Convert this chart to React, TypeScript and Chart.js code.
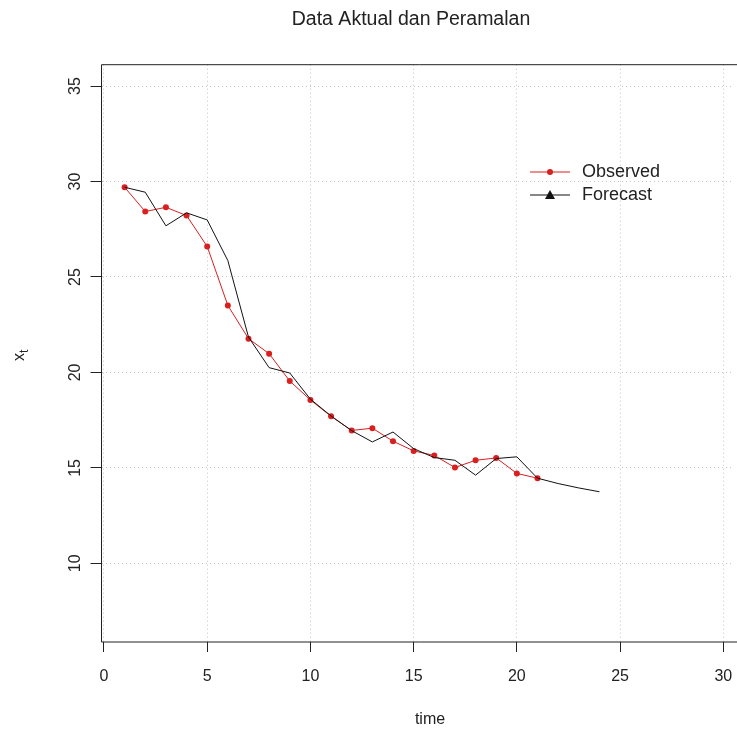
import React, { useEffect, useRef } from 'react';
import { Chart, registerables } from 'chart.js';

Chart.register(...registerables);

const chartTitle = 'Data Aktual dan Peramalan';
const xAxisLabel = 'time';
const seriesNames = ['Observed', 'Forecast'];

const timeObserved = [1, 2, 3, 4, 5, 6, 7, 8, 9, 10, 11, 12, 13, 14, 15, 16, 17, 18, 19, 20, 21];
const observed = [29.7, 28.43, 28.65, 28.22, 26.6, 23.51, 21.77, 20.98, 19.55, 18.56, 17.7, 16.96, 17.08, 16.4, 15.89, 15.65, 15.02, 15.4, 15.52, 14.71, 14.46];

const timeForecast = [1, 2, 3, 4, 5, 6, 7, 8, 9, 10, 11, 12, 13, 14, 15, 16, 17, 18, 19, 20, 21, 22, 23, 24];
const forecast = [29.7, 29.44, 27.68, 28.36, 27.99, 25.86, 21.85, 20.25, 19.97, 18.6, 17.72, 16.95, 16.36, 16.88, 16.01, 15.54, 15.4, 14.62, 15.49, 15.58, 14.46, 14.18, 13.95, 13.75];

const xTicks = [0, 5, 10, 15, 20, 25, 30];
const yTicks = [10, 15, 20, 25, 30, 35];

const FONT = '"Liberation Sans", Arial, sans-serif';
const RED = '#d91f1f';

const decorPlugin = {
  id: 'decor',
  afterDraw(chart: any) {
    const ctx = chart.ctx as CanvasRenderingContext2D;
    const a = chart.chartArea;
    const ys = chart.scales.y;
    ctx.save();
    // box
    ctx.strokeStyle = '#222';
    ctx.lineWidth = 1;
    ctx.beginPath();
    ctx.moveTo(a.right + 5, a.top);
    ctx.lineTo(a.left, a.top);
    ctx.lineTo(a.left, a.bottom);
    ctx.lineTo(a.right + 5, a.bottom);
    ctx.stroke();

    // y tick labels rotated
    ctx.fillStyle = '#222';
    ctx.font = `16px ${FONT}`;
    ctx.textAlign = 'center';
    ctx.textBaseline = 'middle';
    yTicks.forEach((v) => {
      const py = ys.getPixelForValue(v);
      ctx.save();
      ctx.translate(76, py);
      ctx.rotate(-Math.PI / 2);
      ctx.fillText(String(v), 0, 0);
      ctx.restore();
    });

    // y axis label x_t
    ctx.save();
    ctx.translate(20, 356);
    ctx.rotate(-Math.PI / 2);
    ctx.textAlign = 'left';
    ctx.font = `16px ${FONT}`;
    ctx.fillText('x', -5, 0);
    ctx.font = `12px ${FONT}`;
    ctx.fillText('t', 3, 5);
    ctx.restore();

    // x axis label
    ctx.font = `16px ${FONT}`;
    ctx.textAlign = 'center';
    ctx.fillText(xAxisLabel, 430, 720);

    // title
    ctx.font = `19.5px ${FONT}`;
    ctx.fillText(chartTitle, 411, 20);

    // legend
    const lx0 = 530, lx1 = 570, tx = 582;
    const ly = [172, 195];
    ctx.lineWidth = 1;
    ctx.strokeStyle = RED;
    ctx.beginPath();
    ctx.moveTo(lx0, ly[0]);
    ctx.lineTo(lx1, ly[0]);
    ctx.stroke();
    ctx.fillStyle = RED;
    ctx.beginPath();
    ctx.arc(550, ly[0], 3, 0, Math.PI * 2);
    ctx.fill();
    ctx.strokeStyle = '#111';
    ctx.beginPath();
    ctx.moveTo(lx0, ly[1]);
    ctx.lineTo(lx1, ly[1]);
    ctx.stroke();
    ctx.fillStyle = '#111';
    ctx.beginPath();
    ctx.moveTo(550, ly[1] - 5);
    ctx.lineTo(555, ly[1] + 4);
    ctx.lineTo(545, ly[1] + 4);
    ctx.closePath();
    ctx.fill();
    ctx.fillStyle = '#222';
    ctx.textAlign = 'left';
    ctx.font = `18px ${FONT}`;
    ctx.fillText(seriesNames[0], tx, ly[0]);
    ctx.fillText(seriesNames[1], tx, ly[1]);
    ctx.restore();
  },
};

export default function App() {
  const ref = useRef<HTMLCanvasElement | null>(null);
  useEffect(() => {
    document.body.style.margin = '0';
    document.body.style.overflow = 'hidden';
    const canvas = ref.current;
    if (!canvas) return;
    const chart = new Chart(canvas, {
      type: 'line',
      data: {
        datasets: [
          {
            label: seriesNames[1],
            data: timeForecast.map((t, i) => ({ x: t, y: forecast[i] })),
            borderColor: '#111',
            borderWidth: 1,
            pointRadius: 0,
            tension: 0,
            fill: false,
          },
          {
            label: seriesNames[0],
            data: timeObserved.map((t, i) => ({ x: t, y: observed[i] })),
            borderColor: RED,
            borderWidth: 1,
            pointRadius: 3,
            pointBorderWidth: 0,
            pointBackgroundColor: RED,
            tension: 0,
            fill: false,
          },
        ],
      },
      plugins: [decorPlugin],
      options: {
        animation: false,
        responsive: false,
        maintainAspectRatio: false,
        layout: { padding: { top: 64.7, left: 0, right: 0, bottom: 0 } },
        plugins: { legend: { display: false }, title: { display: false }, tooltip: { enabled: false } },
        scales: {
          x: {
            type: 'linear',
            min: -0.12,
            max: 30.47,
            afterBuildTicks: (axis: any) => {
              axis.ticks = xTicks.map((v) => ({ value: v }));
            },
            afterFit: (axis: any) => {
              axis.height = 89;
              axis.paddingRight = 0;
              axis.paddingLeft = 0;
            },
            ticks: {
              color: '#222',
              font: { family: FONT, size: 16 },
              padding: 15,
              maxRotation: 0,
              autoSkip: false,
              callback: (v: any) => String(v),
            },
            border: { display: false, dash: [1, 3] },
            grid: {
              color: '#c4c4c4',
              lineWidth: 1,
              drawTicks: true,
              tickLength: 10,
              tickColor: '#222',
              tickWidth: 1,
              tickBorderDash: [],
            },
          },
          y: {
            type: 'linear',
            min: 5.88,
            max: 36.12,
            afterBuildTicks: (axis: any) => {
              axis.ticks = yTicks.map((v) => ({ value: v }));
            },
            afterFit: (axis: any) => {
              axis.width = 101.5;
              axis.paddingTop = 0;
              axis.paddingBottom = 0;
            },
            ticks: {
              color: 'rgba(0,0,0,0)',
              font: { family: FONT, size: 16 },
              padding: 10,
              callback: (v: any) => String(v),
            },
            border: { display: false, dash: [1, 3] },
            grid: {
              color: '#c4c4c4',
              lineWidth: 1,
              drawTicks: true,
              tickLength: 11,
              tickColor: '#222',
              tickWidth: 1,
              tickBorderDash: [],
            },
          },
        },
      },
    });
    return () => chart.destroy();
  }, []);
  return (
    <div style={{ width: 737, height: 731, background: '#fff' }}>
      <canvas ref={ref} width={737} height={731} style={{ display: 'block' }} />
    </div>
  );
}
